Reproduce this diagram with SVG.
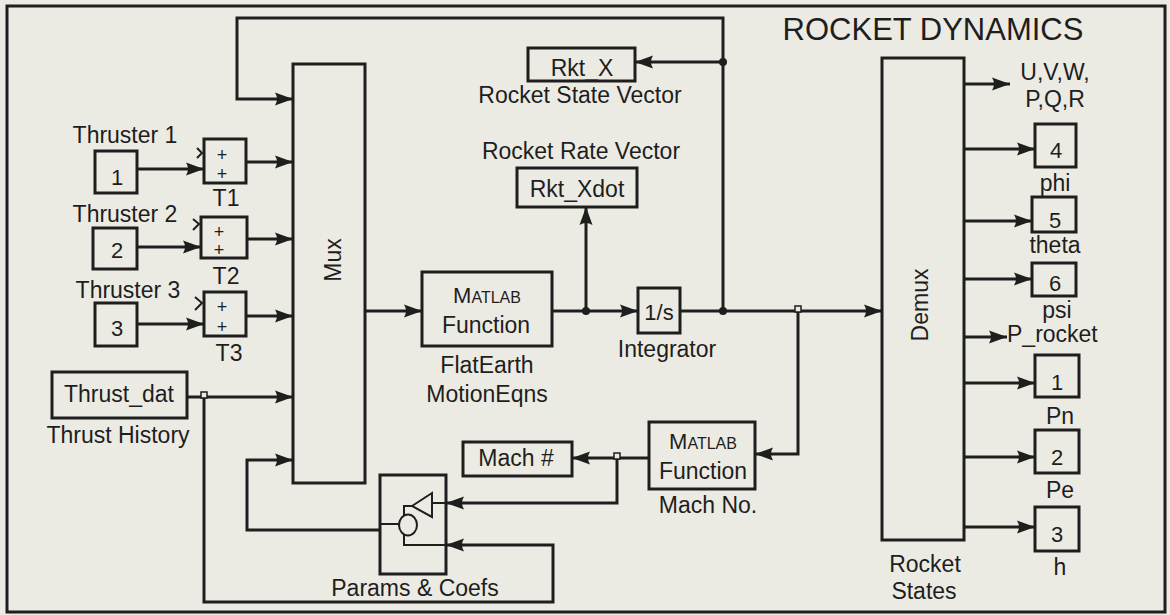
<svg xmlns="http://www.w3.org/2000/svg" width="1170" height="615" viewBox="0 0 1170 615">
<defs>
<style>
.blk{fill:none;stroke:#1e1e1e;stroke-width:3}
.ln{fill:none;stroke:#1e1e1e;stroke-width:3;stroke-linejoin:miter}
.arr{marker-end:url(#ah)}
text{font-family:"Liberation Sans",Arial,sans-serif;fill:#1e1e1e;font-size:23px}
.c{text-anchor:middle}
.num{font-size:22px;text-anchor:middle}
.pl{font-size:18px;text-anchor:middle}
.sc{font-size:16px}
.thin{fill:none;stroke:#1e1e1e;stroke-width:2}
</style>
<marker id="ah" markerUnits="userSpaceOnUse" markerWidth="20" markerHeight="14" refX="18" refY="7" orient="auto">
<path d="M0,0.5 L18,7 L0,13.5 Q4,7 0,0.5 z" fill="#1e1e1e"/>
</marker>
</defs>
<rect x="0" y="0" width="1170" height="615" fill="#ECEBE3"/>
<rect x="7" y="6" width="1158" height="606" fill="none" stroke="#1e1e1e" stroke-width="3"/>

<text x="933" y="40" class="c" style="font-size:31px">ROCKET DYNAMICS</text>

<g id="connectors">
<path class="ln arr" d="M137,169 H204"/>
<path class="ln arr" d="M246,162 H293"/>
<path class="ln arr" d="M137,247 H201"/>
<path class="ln arr" d="M247,239 H293"/>
<path class="ln arr" d="M137,324 H204"/>
<path class="ln arr" d="M246,316 H293"/>
<path class="ln arr" d="M187,397 H293"/>
<path class="ln arr" d="M204,397 V602 H553 V545 H446"/>
<path class="ln arr" d="M380,530 H247 V460 H293"/>
<path class="ln arr" d="M365,311 H422"/>
<path class="ln arr" d="M552,311 H638"/>
<path class="ln arr" d="M586,311 V207"/>
<path class="ln arr" d="M680,311 H882"/>
<path class="ln arr" d="M723,311 V18 H237 V99 H293"/>
<path class="ln arr" d="M723,62 H635"/>
<path class="ln arr" d="M798,311 V454 H755"/>
<path class="ln arr" d="M649,458 H572"/>
<path class="ln arr" d="M617,458 V503 H446"/>
<path class="ln arr" d="M964,84 H1010"/>
<path class="ln arr" d="M964,149 H1035"/>
<path class="ln arr" d="M964,221 H1032"/>
<path class="ln arr" d="M964,279 H1032"/>
<path class="ln arr" d="M964,337 H1007"/>
<path class="ln arr" d="M964,383 H1035"/>
<path class="ln arr" d="M964,457 H1035"/>
<path class="ln arr" d="M964,527 H1035"/>
<circle cx="586" cy="311" r="4" fill="#1e1e1e"/>
<circle cx="723" cy="311" r="4" fill="#1e1e1e"/>
<circle cx="723" cy="62" r="4" fill="#1e1e1e"/>
<rect x="795" y="306" width="6" height="6" fill="#ECEBE3" stroke="#1e1e1e" stroke-width="1.5"/>
<rect x="614" y="453" width="6" height="6" fill="#ECEBE3" stroke="#1e1e1e" stroke-width="1.5"/>
<rect x="201" y="392" width="6" height="6" fill="#ECEBE3" stroke="#1e1e1e" stroke-width="1.5"/>
</g>

<g id="in1">
<text x="125" y="143" class="c">Thruster 1</text>
<rect class="blk" x="95" y="151" width="42" height="42"/>
<text x="117" y="185" class="num">1</text>
</g>
<g id="in2">
<text x="125" y="222" class="c">Thruster 2</text>
<rect class="blk" x="93" y="228" width="44" height="41"/>
<text x="117" y="258" class="num">2</text>
</g>
<g id="in3">
<text x="128" y="298" class="c">Thruster 3</text>
<rect class="blk" x="95" y="303" width="42" height="43"/>
<text x="117" y="336" class="num">3</text>
</g>

<g id="T1">
<rect class="blk" x="204" y="139" width="42" height="44"/>
<text x="222" y="161" class="pl">+</text>
<text x="222" y="180" class="pl">+</text>
<polyline class="thin" points="197,148 202,153 197,158"/>
<text x="226" y="206" class="c">T1</text>
</g>
<g id="T2">
<rect class="blk" x="201" y="217" width="46" height="41"/>
<text x="219" y="238" class="pl">+</text>
<text x="219" y="256" class="pl">+</text>
<polyline class="thin" points="193,219 199,224 193,230"/>
<text x="226" y="284" class="c">T2</text>
</g>
<g id="T3">
<rect class="blk" x="204" y="292" width="42" height="44"/>
<text x="222" y="313" class="pl">+</text>
<text x="222" y="333" class="pl">+</text>
<polyline class="thin" points="195,297 202,303 195,310"/>
<text x="229" y="361" class="c">T3</text>
</g>

<g id="thrust">
<rect class="blk" x="52" y="372" width="135" height="46"/>
<text x="119" y="402" class="c">Thrust_dat</text>
<text x="118" y="443" class="c">Thrust History</text>
</g>

<g id="mux">
<rect class="blk" x="293" y="64" width="72" height="419"/>
<text x="0" y="0" class="c" transform="translate(341,260) rotate(-90)">Mux</text>
</g>

<g id="flatearth">
<rect class="blk" x="422" y="272" width="130" height="74"/>
<text x="487" y="303" class="c" style="font-size:22px">M<tspan class="sc">ATLAB</tspan></text>
<text x="486" y="333" class="c">Function</text>
<text x="487" y="373" class="c">FlatEarth</text>
<text x="487" y="402" class="c">MotionEqns</text>
</g>

<g id="rktxdot">
<text x="581" y="159" class="c">Rocket Rate Vector</text>
<rect class="blk" x="517" y="168" width="120" height="39"/>
<text x="577" y="197" class="c">Rkt_Xdot</text>
</g>

<g id="rktx">
<rect class="blk" x="528" y="48" width="107" height="33"/>
<text x="582" y="76" class="c">Rkt_X</text>
<text x="580" y="103" class="c">Rocket State Vector</text>
</g>

<g id="integrator">
<rect class="blk" x="638" y="288" width="42" height="45"/>
<text x="659" y="320" class="num">1/s</text>
<text x="667" y="357" class="c">Integrator</text>
</g>

<g id="machfn">
<rect class="blk" x="649" y="422" width="106" height="67"/>
<text x="703" y="449" class="c" style="font-size:22px">M<tspan class="sc">ATLAB</tspan></text>
<text x="703" y="479" class="c">Function</text>
<text x="708" y="513" class="c">Mach No.</text>
</g>

<g id="mach">
<rect class="blk" x="463" y="442" width="109" height="34"/>
<text x="516" y="466" class="c">Mach #</text>
</g>

<g id="params">
<rect class="blk" x="380" y="475" width="66" height="99"/>
<polygon class="thin" points="412,506 432,493 432,517"/>
<line class="thin" x1="432" y1="503" x2="446" y2="503"/>
<polyline class="thin" points="412,506 404,506 404,515"/>
<ellipse class="thin" cx="408" cy="525" rx="9" ry="10.5"/>
<line class="thin" x1="380" y1="524" x2="399" y2="524"/>
<polyline class="thin" points="404,535 404,545 446,545"/>
<text x="415" y="596" class="c">Params &amp; Coefs</text>
</g>

<g id="demux">
<rect class="blk" x="882" y="58" width="82" height="482"/>
<text x="0" y="0" class="c" transform="translate(928,305) rotate(-90)">Demux</text>
<text x="925" y="572" class="c">Rocket</text>
<text x="924" y="599" class="c">States</text>
</g>

<g id="out_uvw">
<text x="1055" y="80" class="c">U,V,W,</text>
<text x="1055" y="107" class="c">P,Q,R</text>
</g>
<g id="out4">
<rect class="blk" x="1035" y="124" width="41" height="43"/>
<text x="1056" y="158" class="num">4</text>
<text x="1055" y="191" class="c">phi</text>
</g>
<g id="out5">
<rect class="blk" x="1032" y="197" width="44" height="35"/>
<text x="1055" y="228" class="num">5</text>
<text x="1055" y="253" class="c">theta</text>
</g>
<g id="out6">
<rect class="blk" x="1032" y="263" width="44" height="33"/>
<text x="1055" y="291" class="num">6</text>
<text x="1057" y="318" class="c">psi</text>
</g>
<g id="out_procket">
<text x="1007" y="342">P_rocket</text>
</g>
<g id="out1">
<rect class="blk" x="1035" y="355" width="44" height="42"/>
<text x="1057" y="390" class="num">1</text>
<text x="1060" y="424" class="c">Pn</text>
</g>
<g id="out2">
<rect class="blk" x="1035" y="430" width="44" height="43"/>
<text x="1057" y="465" class="num">2</text>
<text x="1060" y="498" class="c">Pe</text>
</g>
<g id="out3">
<rect class="blk" x="1035" y="507" width="44" height="44"/>
<text x="1057" y="542" class="num">3</text>
<text x="1060" y="575" class="c">h</text>
</g>
</svg>
